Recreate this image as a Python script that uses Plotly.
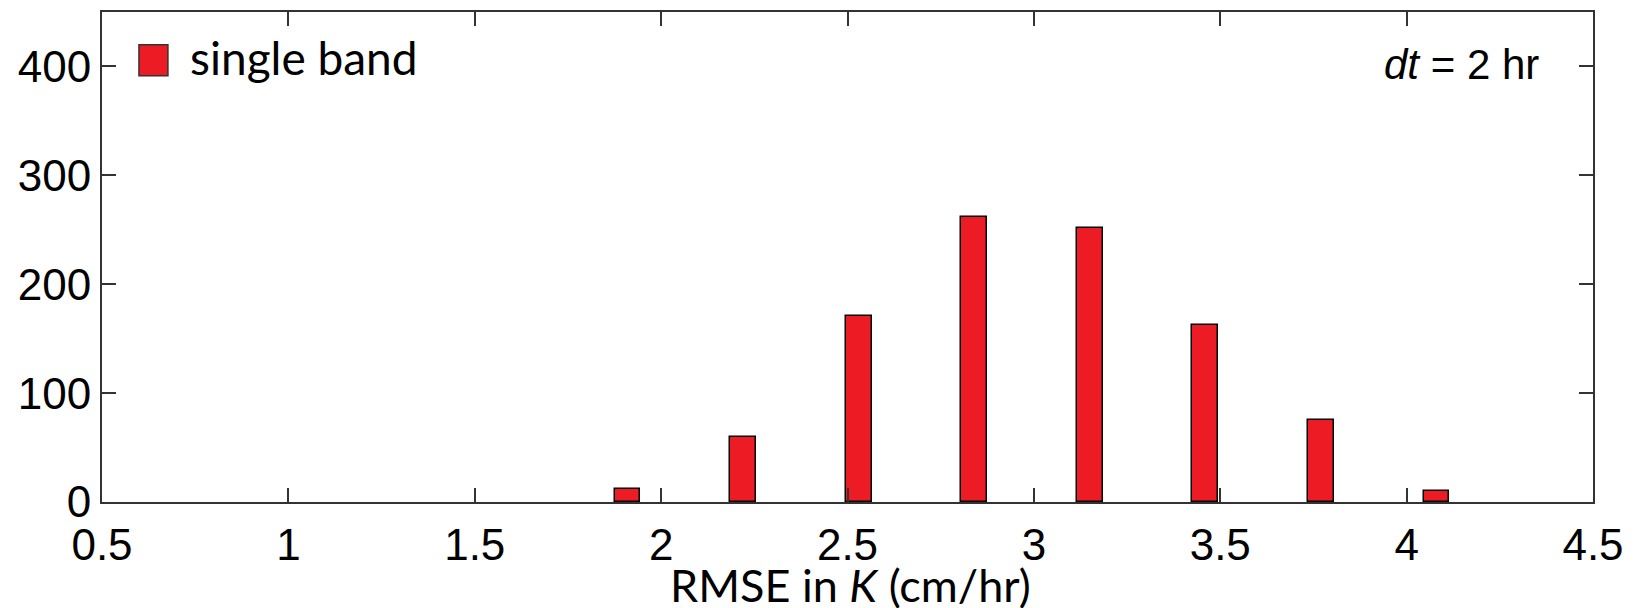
import plotly.graph_objects as go

# Data
bin_centers = [1.91, 2.22, 2.53, 2.84, 3.15, 3.46, 3.77, 4.08]
counts = [12, 60, 171, 262, 252, 163, 75, 10]
series_name = "single band"
x_ticks = [0.5, 1, 1.5, 2, 2.5, 3, 3.5, 4, 4.5]
x_tick_labels = ["0.5", "1", "1.5", "2", "2.5", "3", "3.5", "4", "4.5"]
y_ticks = [0, 100, 200, 300, 400]
y_tick_labels = ["0", "100", "200", "300", "400"]

W, H = 1634, 608
L, R, T, B = 102, 39, 10, 106
pw, ph = W - L - R, H - T - B

fig = go.Figure()
fig.add_trace(go.Bar(
    x=bin_centers, y=counts, name=series_name, width=0.069,
    marker=dict(color="#ED1C24", line=dict(color="black", width=1.5)),
    showlegend=False,
))

axis_common = dict(
    showline=True, linecolor="#333333", linewidth=2, mirror="ticks",
    ticks="inside", ticklen=14, tickwidth=1.5, tickcolor="#333333",
    showgrid=False, zeroline=False,
    tickfont=dict(family="Liberation Sans, Arial, sans-serif", size=44, color="black"),
)

fig.update_layout(
    width=W, height=H,
    margin=dict(l=L, r=R, t=T, b=B),
    paper_bgcolor="white", plot_bgcolor="white",
    xaxis=dict(range=[0.5, 4.5], tickvals=x_ticks, ticktext=x_tick_labels,
               ticklabelstandoff=3, **axis_common),
    yaxis=dict(range=[0, 450], tickvals=y_ticks, ticktext=y_tick_labels, **axis_common),
    bargap=0,
)

# x-axis title
fig.add_annotation(
    text="RMSE in <i>K</i> (cm/hr)", xref="paper", yref="paper",
    x=(852 - L) / pw, y=-(585 - (T + ph)) / ph, xanchor="center", yanchor="middle",
    showarrow=False, font=dict(family="Lato, Open Sans, sans-serif", size=45, color="black"),
)

# legend swatch + label
fig.add_shape(type="rect", xref="paper", yref="paper",
              x0=(139 - L) / pw, x1=(168 - L) / pw,
              y0=1 - (74 - T) / ph, y1=1 - (43 - T) / ph,
              fillcolor="#ED1C24", line=dict(color="#333333", width=1.5))
fig.add_annotation(
    text=series_name, xref="paper", yref="paper",
    x=(188 - L) / pw, y=1 - (56 - T) / ph, xanchor="left", yanchor="middle",
    showarrow=False, font=dict(family="Lato, Open Sans, sans-serif", size=46, color="black"),
)

# dt annotation
fig.add_annotation(
    text="<i>dt</i> = 2 hr", xref="paper", yref="paper",
    x=(1543 - L) / pw, y=1 - (63 - T) / ph, xanchor="right", yanchor="middle",
    showarrow=False, font=dict(family="Liberation Sans, Arial, sans-serif", size=42, color="black"),
)

fig.write_html("out.html")
